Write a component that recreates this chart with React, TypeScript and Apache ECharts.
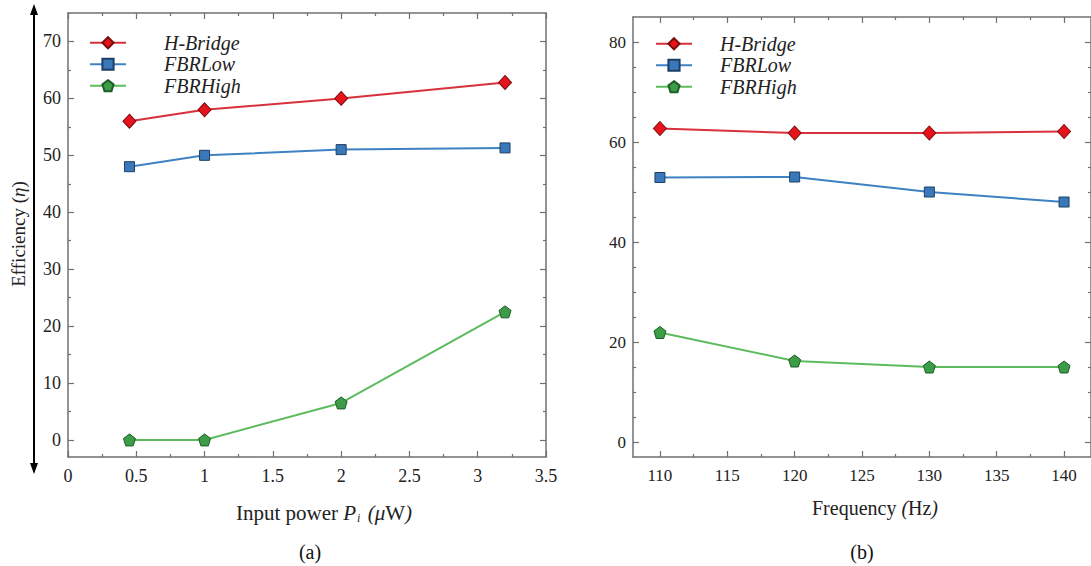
import React, { useEffect, useRef } from "react";
import * as echarts from "echarts";

// ---------- data ----------
const seriesNames = ["H-Bridge", "FBRLow", "FBRHigh"];

const powerX = [0.45, 1, 2, 3.2];
const powerHBridge = [56, 58, 60, 62.8];
const powerFBRLow = [48, 50, 51, 51.3];
const powerFBRHigh = [0, 0, 6.5, 22.5];

const freqX = [110, 120, 130, 140];
const freqHBridge = [62.7, 61.8, 61.8, 62.1];
const freqFBRLow = [52.9, 53, 50, 48];
const freqFBRHigh = [21.9, 16.2, 15, 15];

// tick values
const powerTicks = [0, 0.5, 1, 1.5, 2, 2.5, 3, 3.5];
const powerMinorTicks = [0.25, 0.75, 1.25, 1.75, 2.25, 2.75, 3.25];
const effTicksA = [0, 10, 20, 30, 40, 50, 60, 70];
const effMinorTicksA = [5, 15, 25, 35, 45, 55, 65];
const freqTicks = [110, 115, 120, 125, 130, 135, 140];
const freqMinorTicks = [112.5, 117.5, 122.5, 127.5, 132.5, 137.5];
const effTicksB = [0, 20, 40, 60, 80];
const effMinorTicksB = [5, 10, 15, 25, 30, 35, 45, 50, 55, 65, 70, 75];

const SERIF = "'Liberation Serif', 'Times New Roman', serif";
const AXIS_COLOR = "#707070";

const colors = {
  red: { line: "#d8303c", fill: "#e5131c", border: "#7a0a0a" },
  blue: { line: "#3f82c4", fill: "#3a78b9", border: "#1d3f66" },
  green: { line: "#5dbb5d", fill: "#3c9c48", border: "#1d5e26" },
};

const PENTAGON = "path://M50,0 L97.55,34.55 L79.39,90.45 L20.61,90.45 L2.45,34.55 Z";

function axisSet(
  dim: "x" | "y",
  gridIndex: number,
  min: number,
  max: number,
  major: number[],
  minor: number[],
  fontSize: number
) {
  const bottomPos = dim === "x" ? "bottom" : "left";
  const topPos = dim === "x" ? "top" : "right";
  const base = { type: "value", gridIndex, min, max, splitLine: { show: false } };
  return [
    {
      ...base,
      position: bottomPos,
      axisLine: { show: true, onZero: false, lineStyle: { color: AXIS_COLOR, width: 1.5 } },
      axisTick: { show: true, inside: true, length: 6, customValues: major, lineStyle: { color: AXIS_COLOR, width: 1.2 } },
      axisLabel: {
        show: true,
        customValues: major,
        margin: dim === "x" ? 10 : 7,
        color: "#222",
        fontFamily: SERIF,
        fontSize,
        formatter: (v: number) => String(v),
      },
    },
    {
      ...base,
      position: bottomPos,
      axisLine: { show: false, onZero: false },
      axisTick: { show: true, inside: true, length: 3, customValues: minor, lineStyle: { color: AXIS_COLOR, width: 1.2 } },
      axisLabel: { show: false },
    },
    {
      ...base,
      position: topPos,
      axisLine: { show: true, onZero: false, lineStyle: { color: AXIS_COLOR, width: 1.5 } },
      axisTick: { show: true, inside: true, length: 6, customValues: major, lineStyle: { color: AXIS_COLOR, width: 1.2 } },
      axisLabel: { show: false },
    },
    {
      ...base,
      position: topPos,
      axisLine: { show: false, onZero: false },
      axisTick: { show: true, inside: true, length: 3, customValues: minor, lineStyle: { color: AXIS_COLOR, width: 1.2 } },
      axisLabel: { show: false },
    },
  ];
}

function lineSeries(name: string, xs: number[], ys: number[], axisIndex: number, kind: "red" | "blue" | "green") {
  const c = colors[kind];
  const symbol = kind === "red" ? "diamond" : kind === "blue" ? "rect" : PENTAGON;
  const symbolSize = kind === "red" ? [13, 14] : kind === "blue" ? 10 : 12;
  return {
    type: "line",
    name,
    xAxisIndex: axisIndex,
    yAxisIndex: axisIndex,
    data: xs.map((x, i) => [x, ys[i]]),
    symbol,
    symbolSize,
    showAllSymbol: true,
    lineStyle: { color: c.line, width: 2 },
    itemStyle: { color: c.fill, borderColor: c.border, borderWidth: 1 },
    z: 5,
  };
}

function legendAt(left: number, top: number, pad: number) {
  return {
    orient: "vertical",
    left,
    top,
    padding: 0,
    itemGap: 0,
    itemWidth: 36,
    itemHeight: 14,
    data: seriesNames,
    selectedMode: false,
    textStyle: {
      fontFamily: SERIF,
      fontStyle: "italic",
      fontSize: 20,
      lineHeight: 21.5,
      color: "#222",
      padding: [0, 0, 0, pad],
    },
  };
}

export default function App() {
  const ref = useRef<HTMLDivElement>(null);

  useEffect(() => {
    if (!ref.current) return;
    const chart = echarts.init(ref.current, undefined, { renderer: "svg" });

    const xAxes = [
      ...axisSet("x", 0, 0, 3.5, powerTicks, powerMinorTicks, 18),
      ...axisSet("x", 1, 108, 142, freqTicks, freqMinorTicks, 17),
    ];
    const yAxes = [
      ...axisSet("y", 0, -3, 75, effTicksA, effMinorTicksA, 18),
      ...axisSet("y", 1, -3, 85, effTicksB, effMinorTicksB, 17),
    ];

    const option = {
      animation: false,
      backgroundColor: "#ffffff",
      grid: [
        { left: 68, top: 13, width: 478, height: 444 },
        { left: 633, top: 17, width: 461, height: 440 },
      ],
      xAxis: xAxes,
      yAxis: yAxes,
      legend: [legendAt(89, 32, 33), legendAt(655, 33, 23)],
      series: [
        lineSeries(seriesNames[0], powerX, powerHBridge, 0, "red"),
        lineSeries(seriesNames[1], powerX, powerFBRLow, 0, "blue"),
        lineSeries(seriesNames[2], powerX, powerFBRHigh, 0, "green"),
        lineSeries(seriesNames[0], freqX, freqHBridge, 4, "red"),
        lineSeries(seriesNames[1], freqX, freqFBRLow, 4, "blue"),
        lineSeries(seriesNames[2], freqX, freqFBRHigh, 4, "green"),
      ],
      graphic: [
        // double-headed arrow next to the y axis
        { type: "line", shape: { x1: 34, y1: 12, x2: 34, y2: 466 }, style: { stroke: "#000", lineWidth: 2 } },
        { type: "polygon", shape: { points: [[34, 4], [30, 15], [38, 15]] }, style: { fill: "#000" } },
        { type: "polygon", shape: { points: [[34, 474], [30, 463], [38, 463]] }, style: { fill: "#000" } },
        {
          type: "text",
          x: 18,
          y: 234,
          rotation: Math.PI / 2,
          style: {
            text: "{n|Efficiency (}{i|η}{n|)}",
            align: "center",
            verticalAlign: "middle",
            rich: {
              n: { fontFamily: SERIF, fontSize: 19, fill: "#222" },
              i: { fontFamily: SERIF, fontSize: 19, fontStyle: "italic", fill: "#222" },
            },
          },
        },
        {
          type: "text",
          x: 324,
          y: 513,
          style: {
            text: "{n|Input power }{i|P}{s|i}{i| (μ}{n|W}{i|)}",
            align: "center",
            verticalAlign: "middle",
            rich: {
              n: { fontFamily: SERIF, fontSize: 21, fill: "#222" },
              i: { fontFamily: SERIF, fontSize: 21, fontStyle: "italic", fill: "#222" },
              s: { fontFamily: SERIF, fontSize: 12, fontStyle: "italic", fill: "#222", padding: [10, 2, 0, 1] },
            },
          },
        },
        {
          type: "text",
          x: 875,
          y: 508,
          style: {
            text: "{n|Frequency }{i|(}{n|Hz}{i|)}",
            align: "center",
            verticalAlign: "middle",
            rich: {
              n: { fontFamily: SERIF, fontSize: 20, fill: "#222" },
              i: { fontFamily: SERIF, fontSize: 20, fontStyle: "italic", fill: "#222" },
            },
          },
        },
        {
          type: "text",
          x: 310,
          y: 552,
          style: { text: "(a)", align: "center", verticalAlign: "middle", font: `20px ${SERIF}`, fill: "#111" },
        },
        {
          type: "text",
          x: 862,
          y: 552,
          style: { text: "(b)", align: "center", verticalAlign: "middle", font: `20px ${SERIF}`, fill: "#111" },
        },
      ],
    };

    chart.setOption(option as any);
    return () => chart.dispose();
  }, []);

  return (
    <div
      ref={ref}
      style={{ position: "absolute", left: 0, top: 0, width: 1091, height: 566, background: "#fff" }}
    />
  );
}
